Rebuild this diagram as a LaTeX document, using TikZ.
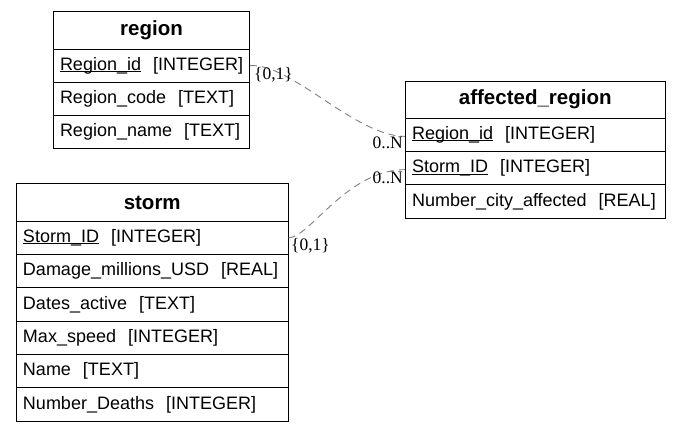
\documentclass[tikz,border=0pt]{standalone}
\usepackage{fontspec}
\setmainfont{Liberation Sans}
\newfontfamily\lblfont{Liberation Serif}
\newcommand\keyul[1]{\setbox0\hbox{#1}\rlap{\rule[-1.6pt]{\wd0}{0.7pt}}\box0}
\begin{document}
\begin{tikzpicture}[x=1pt,y=-1pt,
  cell/.style={draw=black, line width=1pt, anchor=north west, inner xsep=6.5pt, inner ysep=0pt,
    align=left, font=\fontsize{18}{20}\selectfont},
  titlecell/.style={draw=black, line width=1pt, anchor=north west, inner sep=0pt,
    align=center, font=\fontsize{20.5}{22}\selectfont\bfseries},
  rel/.style={draw=gray, line width=0.9pt, dash pattern=on 7pt off 5pt},
  card/.style={font=\fontsize{17.5}{19}\lblfont, inner sep=0pt}]
\useasboundingbox (0,0) rectangle (680,431);
% region
\node[titlecell, minimum width=196pt, minimum height=37.5pt] (regionT) at (53,11) {region};
\node[cell, text width=183pt, minimum height=33.3pt] (regionA) at (53,48.5) {\mbox{\keyul{Region\_id}~~[INTEGER]}};
\node[cell, text width=183pt, minimum height=33.3pt] (regionB) at (53,81.8) {\mbox{Region\_code~~[TEXT]}};
\node[cell, text width=183pt, minimum height=33.3pt] (regionC) at (53,115.1) {\mbox{Region\_name~~[TEXT]}};
% storm
\node[titlecell, minimum width=271.5pt, minimum height=37.4pt] (stormT) at (16,183.3) {storm};
\node[cell, text width=258.5pt, minimum height=33.3pt] (stormA) at (16,220.7) {\mbox{\keyul{Storm\_ID}~~[INTEGER]}};
\node[cell, text width=258.5pt, minimum height=33.3pt] (stormB) at (16,254) {\mbox{Damage\_millions\_USD~~[REAL]}};
\node[cell, text width=258.5pt, minimum height=33.3pt] (stormC) at (16,287.3) {\mbox{Dates\_active~~[TEXT]}};
\node[cell, text width=258.5pt, minimum height=33.3pt] (stormD) at (16,320.6) {\mbox{Max\_speed~~[INTEGER]}};
\node[cell, text width=258.5pt, minimum height=33.3pt] (stormE) at (16,353.9) {\mbox{Name~~[TEXT]}};
\node[cell, text width=258.5pt, minimum height=33.3pt] (stormF) at (16,387.2) {\mbox{Number\_Deaths~~[INTEGER]}};
% affected_region
\node[titlecell, minimum width=259.5pt, minimum height=37pt] (affT) at (405,80.7) {affected\_region};
\node[cell, text width=246.5pt, minimum height=33.3pt] (affA) at (405,117.7) {\mbox{\keyul{Region\_id}~~[INTEGER]}};
\node[cell, text width=246.5pt, minimum height=33.3pt] (affB) at (405,151) {\mbox{\keyul{Storm\_ID}~~[INTEGER]}};
\node[cell, text width=246.5pt, minimum height=33.3pt] (affC) at (405,184.3) {\mbox{Number\_city\_affected~~[REAL]}};
% relationships
\draw[rel] (regionA.east) .. controls +(41,-3) and +(-50,0) .. ([yshift=-1.5pt]affA.west);
\draw[rel] (stormA.east) .. controls +(21,0) and +(-58,0) .. ([yshift=-1.5pt]affB.west);
% cardinalities
\node[card, anchor=west] (c1) at (254,75) {\{0,1\}};
\node[card, anchor=east] (c2) at (403,143) {0..N};
\node[card, anchor=west] (c3) at (291,246) {\{0,1\}};
\node[card, anchor=east] (c4) at (403,178) {0..N};
\end{tikzpicture}
\end{document}
